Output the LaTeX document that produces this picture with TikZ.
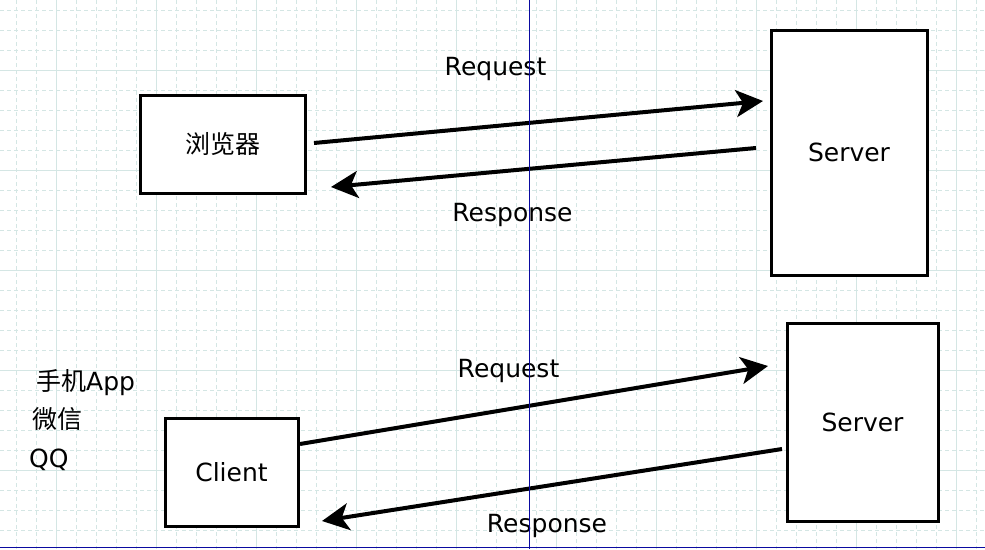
\documentclass[tikz,border=0pt]{standalone}
\usepackage{fontspec}
\setmainfont{DejaVu Sans}
\newfontfamily\cjk{Noto Sans CJK SC}
\usetikzlibrary{arrows.meta,positioning,calc}

\definecolor{gridcol}{RGB}{212,230,228}
\definecolor{pagecol}{RGB}{10,10,160}

\tikzset{
	minor/.style={gridcol, line width=1pt, dash pattern=on 4pt off 3pt},
	major/.style={gridcol, line width=1pt},
	block/.style={draw, line width=3pt, fill=white, inner sep=0pt, font=\fontsize{25}{30}\selectfont},
	msg/.style={line width=4pt, -{Stealth[length=27pt,width=27pt,inset=7pt]}},
	lbl/.style={font=\fontsize{25}{30}\selectfont, inner sep=0pt}
}

\begin{document}
\begin{tikzpicture}[x=1pt, y=-1pt]
	\useasboundingbox[fill=white] (0,0) rectangle (985,549);
	% grid in the background
	\foreach \x in {16.7,36.7,...,985} \draw[minor] (\x,0) -- (\x,549);
	\foreach \y in {10,30,...,549} \draw[minor] (0,\y) -- (985,\y);
	\foreach \x in {56.7,156.7,...,985} \draw[major] (\x,0) -- (\x,549);
	\foreach \y in {70,170,...,549} \draw[major] (0,\y) -- (985,\y);
	
	% browser and its server
	\node[block, minimum width=165pt, minimum height=98pt] (browser) at (222.5,144) {\cjk 浏览器};
	\node[block, minimum width=156pt, minimum height=245pt] (server1) at (849,152.5) {Server};
	
	% client and its server
	\node[block, minimum width=133pt, minimum height=108pt] (client) at (231.5,472) {Client};
	\node[block, minimum width=151pt, minimum height=198pt] (server2) at (862.5,422) {Server};
	
	% end points of the messages
	\coordinate (req1s) at (314,143);
	\coordinate (req1e) at (763,101);
	\coordinate (res1s) at (756,148);
	\coordinate (res1e) at (331,187);
	\coordinate (req2s) at (300,444);
	\coordinate (req2e) at (768,366);
	\coordinate (res2s) at (782,449);
	\coordinate (res2e) at (322,521);
	
	% request / response arrows
	\draw[msg] (req1s) -- (req1e);
	\draw[msg] (res1s) -- (res1e);
	\draw[msg] (req2s) -- (req2e);
	\draw[msg] (res2s) -- (res2e);
	
	% descriptions
	\node[lbl] (req1) at (495.5,69) {Request};
	\node[lbl] (res1) at (512.5,215) {Response};
	\node[lbl] (req2) at (508.5,371) {Request};
	\node[lbl] (res2) at (547,526) {Response};
	
	% kinds of clients
	\node[lbl, anchor=west] (app) at (36,383) {{\cjk 手机}App};
	\node[lbl, anchor=west] (wx) at (32,419) {\cjk 微信};
	\node[lbl, anchor=west] (qq) at (29,460) {QQ};
	
	% page borders
	\draw[pagecol, line width=1pt] (529,0) -- (529,549);
	\draw[pagecol, line width=1.5pt] (0,547.5) -- (985,547.5);
\end{tikzpicture}
\end{document}
